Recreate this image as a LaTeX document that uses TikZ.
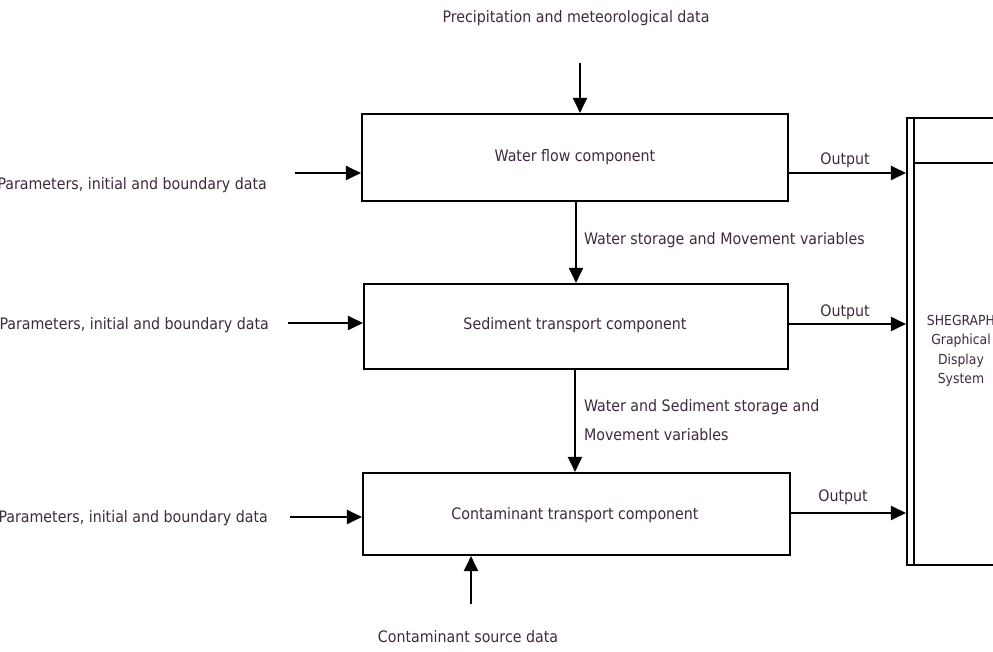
\documentclass[tikz,border=0pt]{standalone}
\usepackage{fontspec}
\setmainfont{DejaVu Sans Condensed}
\usetikzlibrary{arrows.meta}
\definecolor{txt}{RGB}{62,42,62}
\begin{document}
\begin{tikzpicture}[x=1pt,y=-1pt,
  line width=2.1pt,
  blk/.style={draw=black, line width=2.1pt, fill=white, inner sep=0pt},
  lbl/.style={text=txt, font=\fontsize{15.8}{17}\selectfont, inner sep=0pt},
  arr/.style={-{Triangle[length=15pt,width=14pt]}, line width=2.1pt}]
\useasboundingbox (0,0) rectangle (993,652);
\clip (0,0) rectangle (993,652);
% component boxes
\node[blk, minimum width=426pt, minimum height=87pt] (b1) at (575,157.5) {};
\node[blk, minimum width=424pt, minimum height=85pt] (b2) at (576,326.5) {};
\node[blk, minimum width=427pt, minimum height=82pt] (b3) at (576.5,514) {};
\node[lbl] (t1) at (575,157) {Water flow component};
\node[lbl] (t2) at (575,325) {Sediment transport component};
\node[lbl] (t3) at (575,515) {Contaminant transport component};
% display system box
\node[blk, minimum width=110pt, minimum height=447pt] (shg) at (962,341.5) {};
\coordinate (ivt) at (914,118);
\coordinate (ivb) at (914,565);
\coordinate (ih) at (914,163);
\coordinate (ihr) at (1020,163);
\draw (ivt) -- (ivb);
\draw (ih) -- (ihr);
\node[lbl, font=\fontsize{13.8}{19.5}\selectfont, align=center] (shgt) at (961,351) {SHEGRAPH\\Graphical\\Display\\System};
% top input
\node[lbl] (prec) at (576,18) {Precipitation and meteorological data};
\coordinate (pin) at (580,63);
\draw[arr] (pin) -- (pin |- b1.north);
% left inputs
\node[lbl, anchor=east] (p1) at (268,185) {Parameters, initial and boundary data};
\node[lbl, anchor=east] (p2) at (270,325) {Parameters, initial and boundary data};
\node[lbl, anchor=east] (p3) at (269,518) {Parameters, initial and boundary data};
\coordinate (l1) at (295,173);
\coordinate (l2) at (288,323);
\coordinate (l3) at (290,517);
\draw[arr] (l1) -- (l1 -| b1.west);
\draw[arr] (l2) -- (l2 -| b2.west);
\draw[arr] (l3) -- (l3 -| b3.west);
% vertical links
\coordinate (v1) at (576,201);
\draw[arr] (v1 |- b1.south) -- (v1 |- b2.north);
\node[lbl, anchor=west] (m1) at (583,240) {Water storage and Movement variables};
\coordinate (v2) at (575,369);
\draw[arr] (v2 |- b2.south) -- (v2 |- b3.north);
\node[lbl, anchor=west] (m2) at (583,407) {Water and Sediment storage and};
\node[lbl, anchor=west] (m3) at (583,435) {Movement variables};
% bottom input
\coordinate (cin) at (471,604);
\draw[arr] (cin) -- (cin |- b3.south);
\node[lbl] (cs) at (468,637) {Contaminant source data};
% outputs
\coordinate (o1) at (700,173);
\coordinate (o2) at (700,324);
\coordinate (o3) at (700,513);
\draw[arr] (o1 -| b1.east) -- (o1 -| shg.west);
\draw[arr] (o2 -| b2.east) -- (o2 -| shg.west);
\draw[arr] (o3 -| b3.east) -- (o3 -| shg.west);
\node[lbl] (ol1) at (845,160) {Output};
\node[lbl] (ol2) at (845,312) {Output};
\node[lbl] (ol3) at (843,497) {Output};
\end{tikzpicture}
\end{document}
